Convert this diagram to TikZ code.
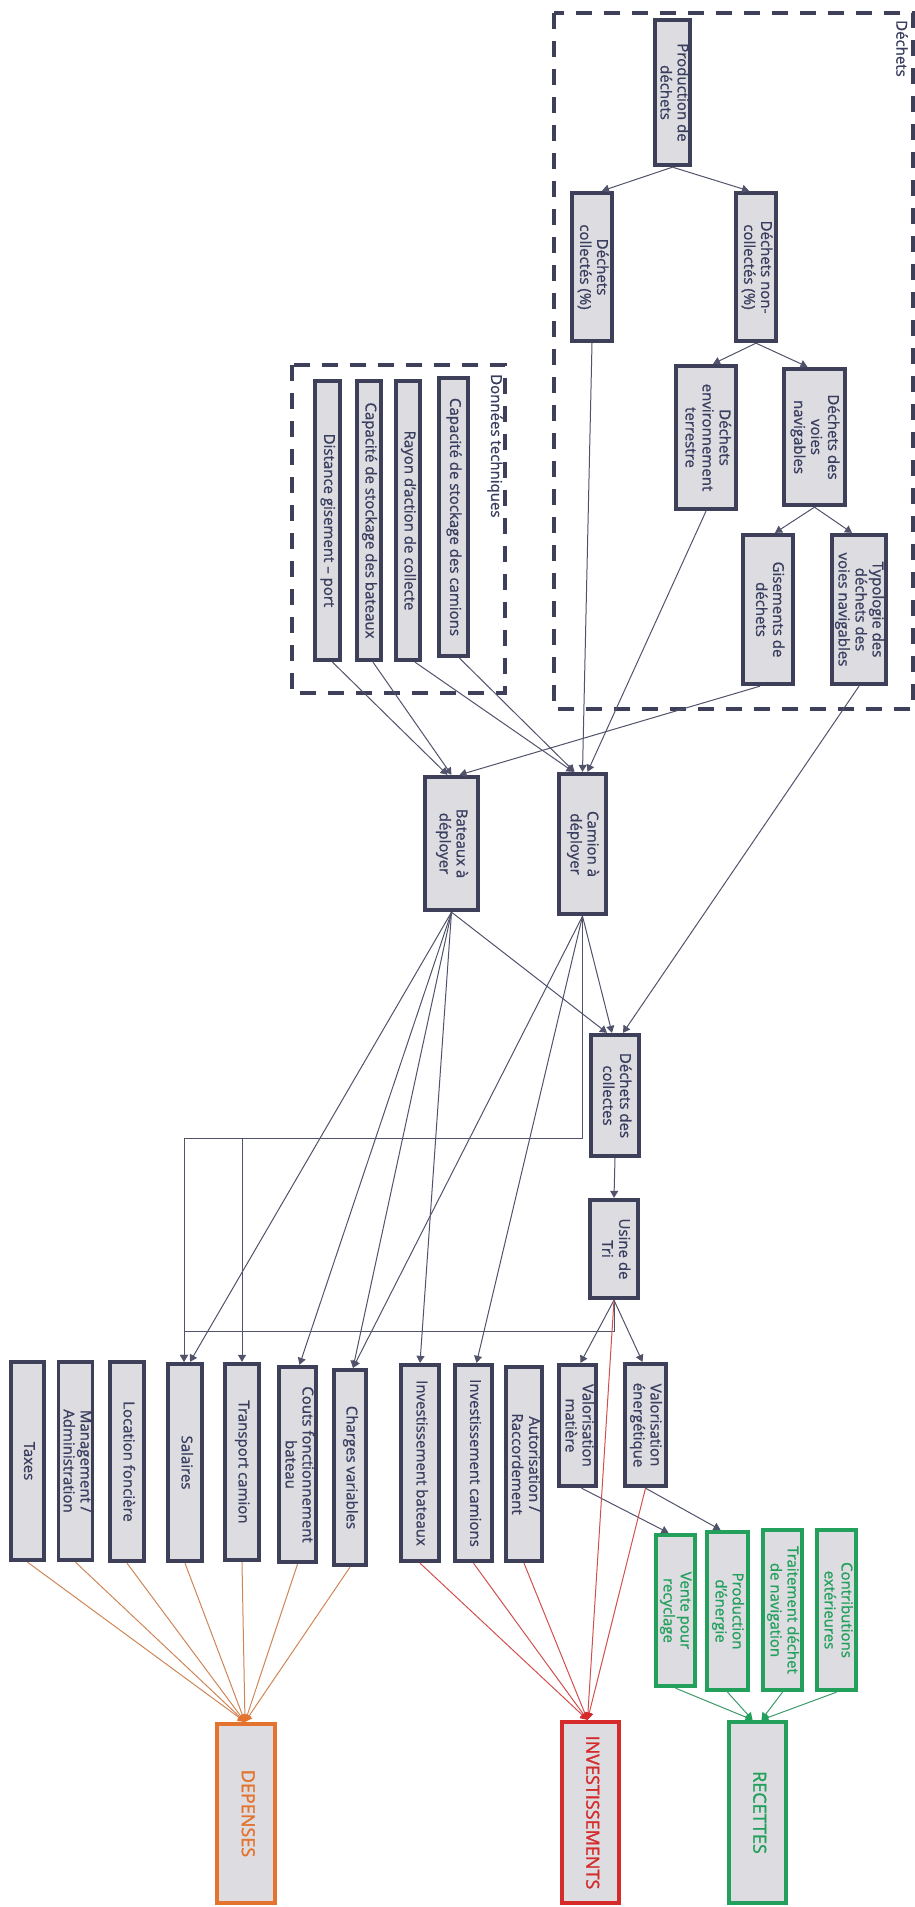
\documentclass[tikz,border=0pt]{standalone}
\usepackage{fontspec}
\setmainfont{Open Sans}[FakeBold=1.0]
\newfontfamily\bigfont{Open Sans}[FakeBold=1.6]
\usepackage{graphicx}
\usetikzlibrary{arrows.meta}
\definecolor{bd}{HTML}{3D4058}
\definecolor{bf}{HTML}{DCDCE1}
\definecolor{tx}{HTML}{3A3E5E}
\definecolor{ln}{HTML}{50536B}
\definecolor{og}{HTML}{E4732E}
\definecolor{rd}{HTML}{D52B2B}
\definecolor{gn}{HTML}{23A05C}
\definecolor{ogl}{HTML}{CF8657}
\definecolor{rdl}{HTML}{D0504F}
\definecolor{gnl}{HTML}{3F9A6B}
\newcommand{\vtxt}[1]{\rotatebox{-90}{\begin{tabular}{@{}c@{}}#1\end{tabular}}}
\begin{document}
\begin{tikzpicture}[x=1pt,y=-1pt,
  box/.style={draw=bd, fill=bf, line width=3.8pt, inner sep=0pt, text=tx, font=\fontsize{15}{17}\selectfont},
  gbox/.style={box, draw=gn, text=gn},
  bigbox/.style={box, font=\bigfont\fontsize{18}{21}\selectfont},
  frame/.style={draw=bd, line width=4pt, dash pattern=on 16pt off 12pt},
  lbl/.style={inner sep=0pt, text=tx, font=\fontsize{15}{17}\selectfont},
  tip/.style={-{Triangle[length=7pt,width=8pt]}},
  conn/.style={draw=ln, line width=1pt, tip},
  oconn/.style={draw=ogl, line width=1pt, -{Triangle[length=7pt,width=8pt,fill=og,color=og]}},
  rconn/.style={draw=rdl, line width=1pt, -{Triangle[length=7pt,width=8pt,fill=rd,color=rd]}},
  gconn/.style={draw=gnl, line width=1pt, -{Triangle[length=7pt,width=8pt,fill=gn,color=gn]}}
]
\useasboundingbox (0,0) rectangle (915,1907);
% frames
\draw[frame] (554,13) rectangle (913,709);
\draw[frame] (292,365) rectangle (505,693);
\node[lbl, anchor=north] (lblD) at (902,20) {\rotatebox{-90}{Déchets}};
\node[lbl, anchor=north] (lblT) at (495,374) {\rotatebox{-90}{Données techniques}};

% Déchets group
\node[box, minimum width=35.5pt, minimum height=145.5pt] (prod) at (672.5,92.5) {\vtxt{Production de\\déchets}};
\node[box, minimum width=40.5pt, minimum height=148.5pt] (coll) at (592,267) {\vtxt{Déchets\\collectés (\%)}};
\node[box, minimum width=40.5pt, minimum height=148.5pt] (noncoll) at (756,267) {\vtxt{Déchets non-\\collectés (\%)}};
\node[box, minimum width=60.5pt, minimum height=143.5pt] (env) at (706,437.5) {\vtxt{Déchets\\environnement\\terrestre}};
\node[box, minimum width=61.5pt, minimum height=136.5pt] (voies) at (814.5,437) {\vtxt{Déchets des\\voies\\navigables}};
\node[box, minimum width=50.5pt, minimum height=149.5pt] (gis) at (768,609.5) {\vtxt{Gisements de\\déchets}};
\node[box, minimum width=54.5pt, minimum height=149.5pt] (typo) at (859,609.5) {\vtxt{Typologie des\\déchets des\\voies navigables}};

% Données techniques
\node[box, minimum width=25.5pt, minimum height=279.5pt] (dist) at (327.5,520.5) {\vtxt{Distance gisement – port}};
\node[box, minimum width=24.5pt, minimum height=279.5pt] (capbat) at (369,520.5) {\vtxt{Capacité de stockage des bateaux}};
\node[box, minimum width=24.5pt, minimum height=279.5pt] (rayon) at (408,520.5) {\vtxt{Rayon d’action de collecte}};
\node[box, minimum width=29.5pt, minimum height=278.5pt] (capcam) at (453.5,517) {\vtxt{Capacité de stockage des camions}};

% middle
\node[box, minimum width=53.5pt, minimum height=133.5pt] (bat) at (451.5,843.5) {\vtxt{Bateaux à\\déployer}};
\node[box, minimum width=47.5pt, minimum height=140.5pt] (cam) at (582.5,844) {\vtxt{Camion à\\déployer}};
\node[box, minimum width=48.5pt, minimum height=121.5pt] (coll2) at (615,1095.5) {\vtxt{Déchets des\\collectes}};
\node[box, minimum width=48.5pt, minimum height=98.5pt] (usine) at (614,1249) {\vtxt{Usine de\\Tri}};

% bottom row
\node[box, minimum width=33.5pt, minimum height=198.5pt] (taxes) at (27.5,1461) {\vtxt{Taxes}};
\node[box, minimum width=33.5pt, minimum height=198.5pt] (mgmt) at (75.5,1461) {\vtxt{Management /\\Administration}};
\node[box, minimum width=34.5pt, minimum height=199.5pt] (loc) at (127,1461.5) {\vtxt{Location foncière}};
\node[box, minimum width=34.5pt, minimum height=197.5pt] (sal) at (185,1462.5) {\vtxt{Salaires}};
\node[box, minimum width=34.5pt, minimum height=196.5pt] (transp) at (242,1462) {\vtxt{Transport camion}};
\node[box, minimum width=37.5pt, minimum height=195.5pt] (couts) at (297.5,1464.5) {\vtxt{Couts fonctionnement\\bateau}};
\node[box, minimum width=32.5pt, minimum height=195.5pt] (charges) at (350,1467.5) {\vtxt{Charges variables}};
\node[box, minimum width=38.5pt, minimum height=196.5pt] (invbat) at (420,1463) {\vtxt{Investissement bateaux}};
\node[box, minimum width=37.5pt, minimum height=196.5pt] (invcam) at (473.5,1463) {\vtxt{Investissement camions}};
\node[box, minimum width=36.5pt, minimum height=194.5pt] (autor) at (524,1464) {\vtxt{Autorisation /\\Raccordement}};
\node[box, minimum width=37.5pt, minimum height=121.5pt] (valmat) at (577.5,1425.5) {\vtxt{Valorisation\\matière}};
\node[box, minimum width=41.5pt, minimum height=122.5pt] (valen) at (645.5,1425) {\vtxt{Valorisation\\énergétique}};

% green
\node[gbox, minimum width=39.5pt, minimum height=151.5pt] (vente) at (675.5,1610.5) {\vtxt{Vente pour\\recyclage}};
\node[gbox, minimum width=41.5pt, minimum height=158.5pt] (prodE) at (727.5,1611) {\vtxt{Production\\d’énergie}};
\node[gbox, minimum width=39.5pt, minimum height=160.5pt] (trait) at (782.5,1610) {\vtxt{Traitement déchet\\de navigation}};
\node[gbox, minimum width=39.5pt, minimum height=160.5pt] (contrib) at (836.5,1610) {\vtxt{Contributions\\extérieures}};

% totals
\node[bigbox, draw=gn, text=gn, minimum width=57.5pt, minimum height=181.5pt] (recettes) at (757.5,1812.5) {\vtxt{RECETTES}};
\node[bigbox, draw=rd, text=rd, minimum width=57.5pt, minimum height=181.5pt] (invest) at (590.5,1812.5) {\vtxt{INVESTISSEMENTS}};
\node[bigbox, draw=og, text=og, minimum width=58.5pt, minimum height=179.5pt] (dep) at (246,1813.5) {\vtxt{DEPENSES}};

% connectors, Déchets group
\draw[conn] (prod.south) -- ([xshift=10pt]coll.north);
\draw[conn] (prod.south) -- ([xshift=-7pt]noncoll.north);
\draw[conn] (noncoll.south) -- ([xshift=7pt]env.north);
\draw[conn] (noncoll.south) -- ([xshift=-7pt]voies.north);
\draw[conn] (voies.south) -- ([xshift=7pt]gis.north);
\draw[conn] (voies.south) -- ([xshift=-7pt]typo.north);

% into bateaux / camion
\draw[conn] ([xshift=5pt]dist.south) -- ([xshift=-4pt]bat.north);
\draw[conn] ([xshift=4pt]capbat.south) -- (bat.north);
\draw[conn] ([xshift=-8pt]gis.south) -- ([xshift=8pt]bat.north);
\draw[conn] ([xshift=7pt]rayon.south) -- ([xshift=-9pt]cam.north);
\draw[conn] ([xshift=6pt]capcam.south) -- ([xshift=-8pt]cam.north);
\draw[conn] (coll.south) -- (cam.north);
\draw[conn] (env.south) -- ([xshift=5pt]cam.north);

% into déchets des collectes
\draw[conn] (typo.south) -- ([xshift=8pt]coll2.north);
\draw[conn] (bat.south) -- ([xshift=-8pt]coll2.north);
\draw[conn] (cam.south) -- ([xshift=-3pt]coll2.north);
\draw[conn] (coll2.south) -- (usine.north);

% bateaux / camion to costs
\draw[conn] (bat.south) -- ([xshift=5pt]sal.north);
\draw[conn] (bat.south) -- ([xshift=2pt]couts.north);
\draw[conn] (bat.south) -- ([xshift=3pt]charges.north);
\draw[conn] (bat.south) -- (invbat.north);
\draw[conn] (cam.south) -- ([xshift=3pt]charges.north);
\draw[conn] (cam.south) -- ([xshift=3pt]invcam.north);
\draw[conn] (cam.south) -- (cam.south |- 0,1138) -| ([xshift=-1pt]sal.north);
\draw[conn] (cam.south) -- (cam.south |- 0,1138) -| (transp.north);

% usine
\draw[conn] (usine.south) -- (usine.south |- 0,1331) -| ([xshift=-1pt]sal.north);
\draw[conn] (usine.south) -- ([xshift=3pt]valmat.north);
\draw[conn] (usine.south) -- ([xshift=-3pt]valen.north);
\draw[conn] ([xshift=4pt]valmat.south) -- ([xshift=-7pt]vente.north);
\draw[conn] (valen.south) -- ([xshift=-7pt]prodE.north);

% investissements
\draw[rconn] (usine.south) -- ([xshift=-3pt]invest.north);
\draw[rconn] (invbat.south) -- ([xshift=-3pt]invest.north);
\draw[rconn] (invcam.south) -- ([xshift=-3pt]invest.north);
\draw[rconn] (autor.south) -- ([xshift=-3pt]invest.north);
\draw[rconn] (valen.south) -- ([xshift=-3pt]invest.north);

% dépenses
\foreach \n in {taxes,mgmt,loc,sal,transp,couts,charges}
  \draw[oconn] (\n.south) -- ([xshift=-1pt]dep.north);

% recettes
\draw[gconn] (vente.south) -- ([xshift=-5pt]recettes.north);
\draw[gconn] (prodE.south) -- ([xshift=-5pt]recettes.north);
\draw[gconn] (trait.south) -- ([xshift=4pt]recettes.north);
\draw[gconn] (contrib.south) -- ([xshift=4pt]recettes.north);
\end{tikzpicture}
\end{document}
